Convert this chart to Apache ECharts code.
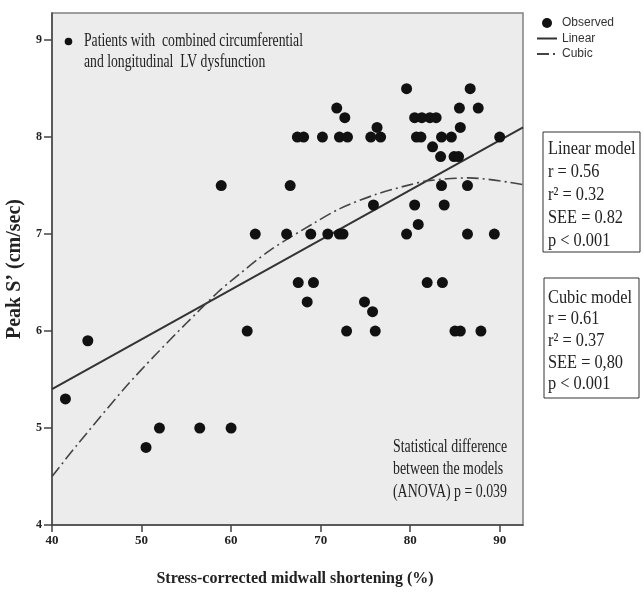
<!DOCTYPE html>
<html>
<head>
<meta charset="utf-8">
<script src="https://cdn.jsdelivr.net/npm/echarts@6/dist/echarts.min.js"></script>
<style>
html,body{margin:0;padding:0;background:#fff;}
#c{width:644px;height:595px;}
</style>
</head>
<body>
<div id="c"></div>
<script>
// Observed points (stress-corrected midwall shortening %, peak S' cm/sec)
const obsX = [79.6, 86.7,
  71.8, 85.5, 87.6,
  72.7, 80.5, 81.3, 82.2, 82.9,
  76.3, 85.6,
  67.4, 68.1, 70.2, 72.1, 73.0, 75.6, 76.7, 80.7, 81.2, 83.5, 84.6, 90.0,
  82.5,
  83.4, 84.9, 85.4,
  58.9, 66.6, 83.5, 86.4,
  75.9, 80.5, 83.8,
  80.9,
  62.7, 66.2, 68.9, 70.8, 72.1, 72.5, 79.6, 86.4, 89.4,
  67.5, 69.2, 81.9, 83.6,
  68.5, 74.9,
  75.8,
  61.8, 72.9, 76.1, 85.0, 85.6, 87.9,
  44.0,
  41.5,
  52.0, 56.5, 60.0,
  50.5];
const obsY = [8.5, 8.5,
  8.3, 8.3, 8.3,
  8.2, 8.2, 8.2, 8.2, 8.2,
  8.1, 8.1,
  8.0, 8.0, 8.0, 8.0, 8.0, 8.0, 8.0, 8.0, 8.0, 8.0, 8.0, 8.0,
  7.9,
  7.8, 7.8, 7.8,
  7.5, 7.5, 7.5, 7.5,
  7.3, 7.3, 7.3,
  7.1,
  7.0, 7.0, 7.0, 7.0, 7.0, 7.0, 7.0, 7.0, 7.0,
  6.5, 6.5, 6.5, 6.5,
  6.3, 6.3,
  6.2,
  6.0, 6.0, 6.0, 6.0, 6.0, 6.0,
  5.9,
  5.3,
  5.0, 5.0, 5.0,
  4.8];
// Linear fit line (read endpoints)
const linX = [40, 92.6];
const linY = [5.40, 8.10];
// Cubic fit curve (read points)
const cubX = [40, 42.75, 48.1, 51.5, 55.0, 58.4, 59.9, 64.3, 69.2, 72.1, 76.2, 79.6, 82.0, 86.6, 92.6];
const cubY = [4.50, 4.82, 5.41, 5.75, 6.08, 6.39, 6.51, 6.83, 7.11, 7.26, 7.41, 7.50, 7.55, 7.58, 7.51];
// Axis ticks
const xTicks = [40, 50, 60, 70, 80, 90];
const yTicks = [4, 5, 6, 7, 8, 9];

const serif = "'Liberation Serif', 'Times New Roman', serif";
const sans = "'Liberation Sans', Arial, sans-serif";

const chart = echarts.init(document.getElementById('c'));
const pair = (xs, ys) => xs.map((x, i) => [x, ys[i]]);
const hiddenSym = { color: 'rgba(0,0,0,0)', borderWidth: 0, opacity: 0 };

chart.setOption({
  animation: false,
  backgroundColor: '#ffffff',
  grid: {
    left: 52, top: 13, right: 121, bottom: 70, outerBoundsMode: 'none', containLabel: false,
    show: true, backgroundColor: '#ececec', borderColor: '#808080', borderWidth: 1.5
  },
  legend: {
    orient: 'vertical', left: 536, top: 17, padding: 0, itemWidth: 20, itemHeight: 10, itemGap: 3.5,
    textStyle: { fontFamily: sans, fontSize: 12, color: '#333' },
    data: [
      { name: 'Observed' },
      { name: 'Linear', itemStyle: hiddenSym },
      { name: 'Cubic', itemStyle: hiddenSym }
    ]
  },
  xAxis: {
    type: 'value', min: 40, max: 92.6,
    name: 'Stress-corrected midwall shortening (%)', nameLocation: 'middle', nameGap: 46,
    nameTextStyle: { fontFamily: serif, fontWeight: 'bold', fontSize: 16, color: '#222', padding: [0, 0, 0, 15] },
    axisLine: { show: true, lineStyle: { color: '#444', width: 1.5 } },
    axisTick: { show: true, length: 7, customValues: xTicks, lineStyle: { color: '#444', width: 1.5 } },
    axisLabel: { customValues: xTicks, margin: 9, fontFamily: serif, fontWeight: 'bold', fontSize: 13, color: '#222' },
    splitLine: { show: false }
  },
  yAxis: {
    type: 'value', min: 4, max: 9.28,
    name: 'Peak S\u2019 (cm/sec)', nameLocation: 'middle', nameGap: 25,
    nameTextStyle: { fontFamily: serif, fontWeight: 'bold', fontSize: 20, color: '#222' },
    axisLine: { show: true, lineStyle: { color: '#444', width: 1.5 } },
    axisTick: { show: true, length: 8, customValues: yTicks, lineStyle: { color: '#444', width: 1.5 } },
    axisLabel: { customValues: yTicks, margin: 10, fontFamily: serif, fontWeight: 'bold', fontSize: 12, color: '#222' },
    splitLine: { show: false }
  },
  series: [
    {
      name: 'Observed', type: 'scatter', symbol: 'circle', symbolSize: 11,
      itemStyle: { color: '#111', opacity: 1 }, data: pair(obsX, obsY), z: 3
    },
    {
      name: 'Linear', type: 'line', symbol: 'none', showSymbol: false,
      lineStyle: { color: '#333', width: 2 }, itemStyle: { color: '#333' },
      data: pair(linX, linY), z: 2
    },
    {
      name: 'Cubic', type: 'line', symbol: 'none', showSymbol: false, smooth: 0.3,
      lineStyle: { color: '#444', width: 1.6, type: [12, 4, 2, 4] }, itemStyle: { color: '#444' },
      data: pair(cubX, cubY), z: 2
    }
  ],
  graphic: [
    { type: 'circle', shape: { cx: 68.5, cy: 41.5, r: 3.8 }, style: { fill: '#111' }, z: 10 },
    { type: 'text', x: 84, y: 30, scaleX: 0.74, z: 10,
      style: { text: 'Patients with  combined circumferential\nand longitudinal  LV dysfunction',
        fontFamily: serif, fontSize: 18.5, lineHeight: 21.5, fill: '#222', verticalAlign: 'top', align: 'left' } },
    { type: 'text', x: 393, y: 436, scaleX: 0.75, z: 10,
      style: { text: 'Statistical difference\nbetween the models\n(ANOVA) p = 0.039',
        fontFamily: serif, fontSize: 18.5, lineHeight: 22.3, fill: '#222', verticalAlign: 'top', align: 'left' } },
    { type: 'rect', shape: { x: 543, y: 132, width: 97, height: 120 }, style: { fill: '#fff', stroke: '#333', lineWidth: 1 }, z: 10 },
    { type: 'text', x: 548, y: 138, scaleX: 0.86, z: 11,
      style: { text: 'Linear model\nr = 0.56\nr\u00b2 = 0.32\nSEE = 0.82\np < 0.001',
        fontFamily: serif, fontSize: 19, lineHeight: 22.9, fill: '#222', verticalAlign: 'top', align: 'left' } },
    { type: 'rect', shape: { x: 544, y: 278, width: 95, height: 120 }, style: { fill: '#fff', stroke: '#333', lineWidth: 1 }, z: 10 },
    { type: 'text', x: 548, y: 287, scaleX: 0.86, z: 11,
      style: { text: 'Cubic model\nr = 0.61\nr\u00b2 = 0.37\nSEE = 0,80\np < 0.001',
        fontFamily: serif, fontSize: 19, lineHeight: 21.65, fill: '#222', verticalAlign: 'top', align: 'left' } }
  ]
});
</script>
</body>
</html>
